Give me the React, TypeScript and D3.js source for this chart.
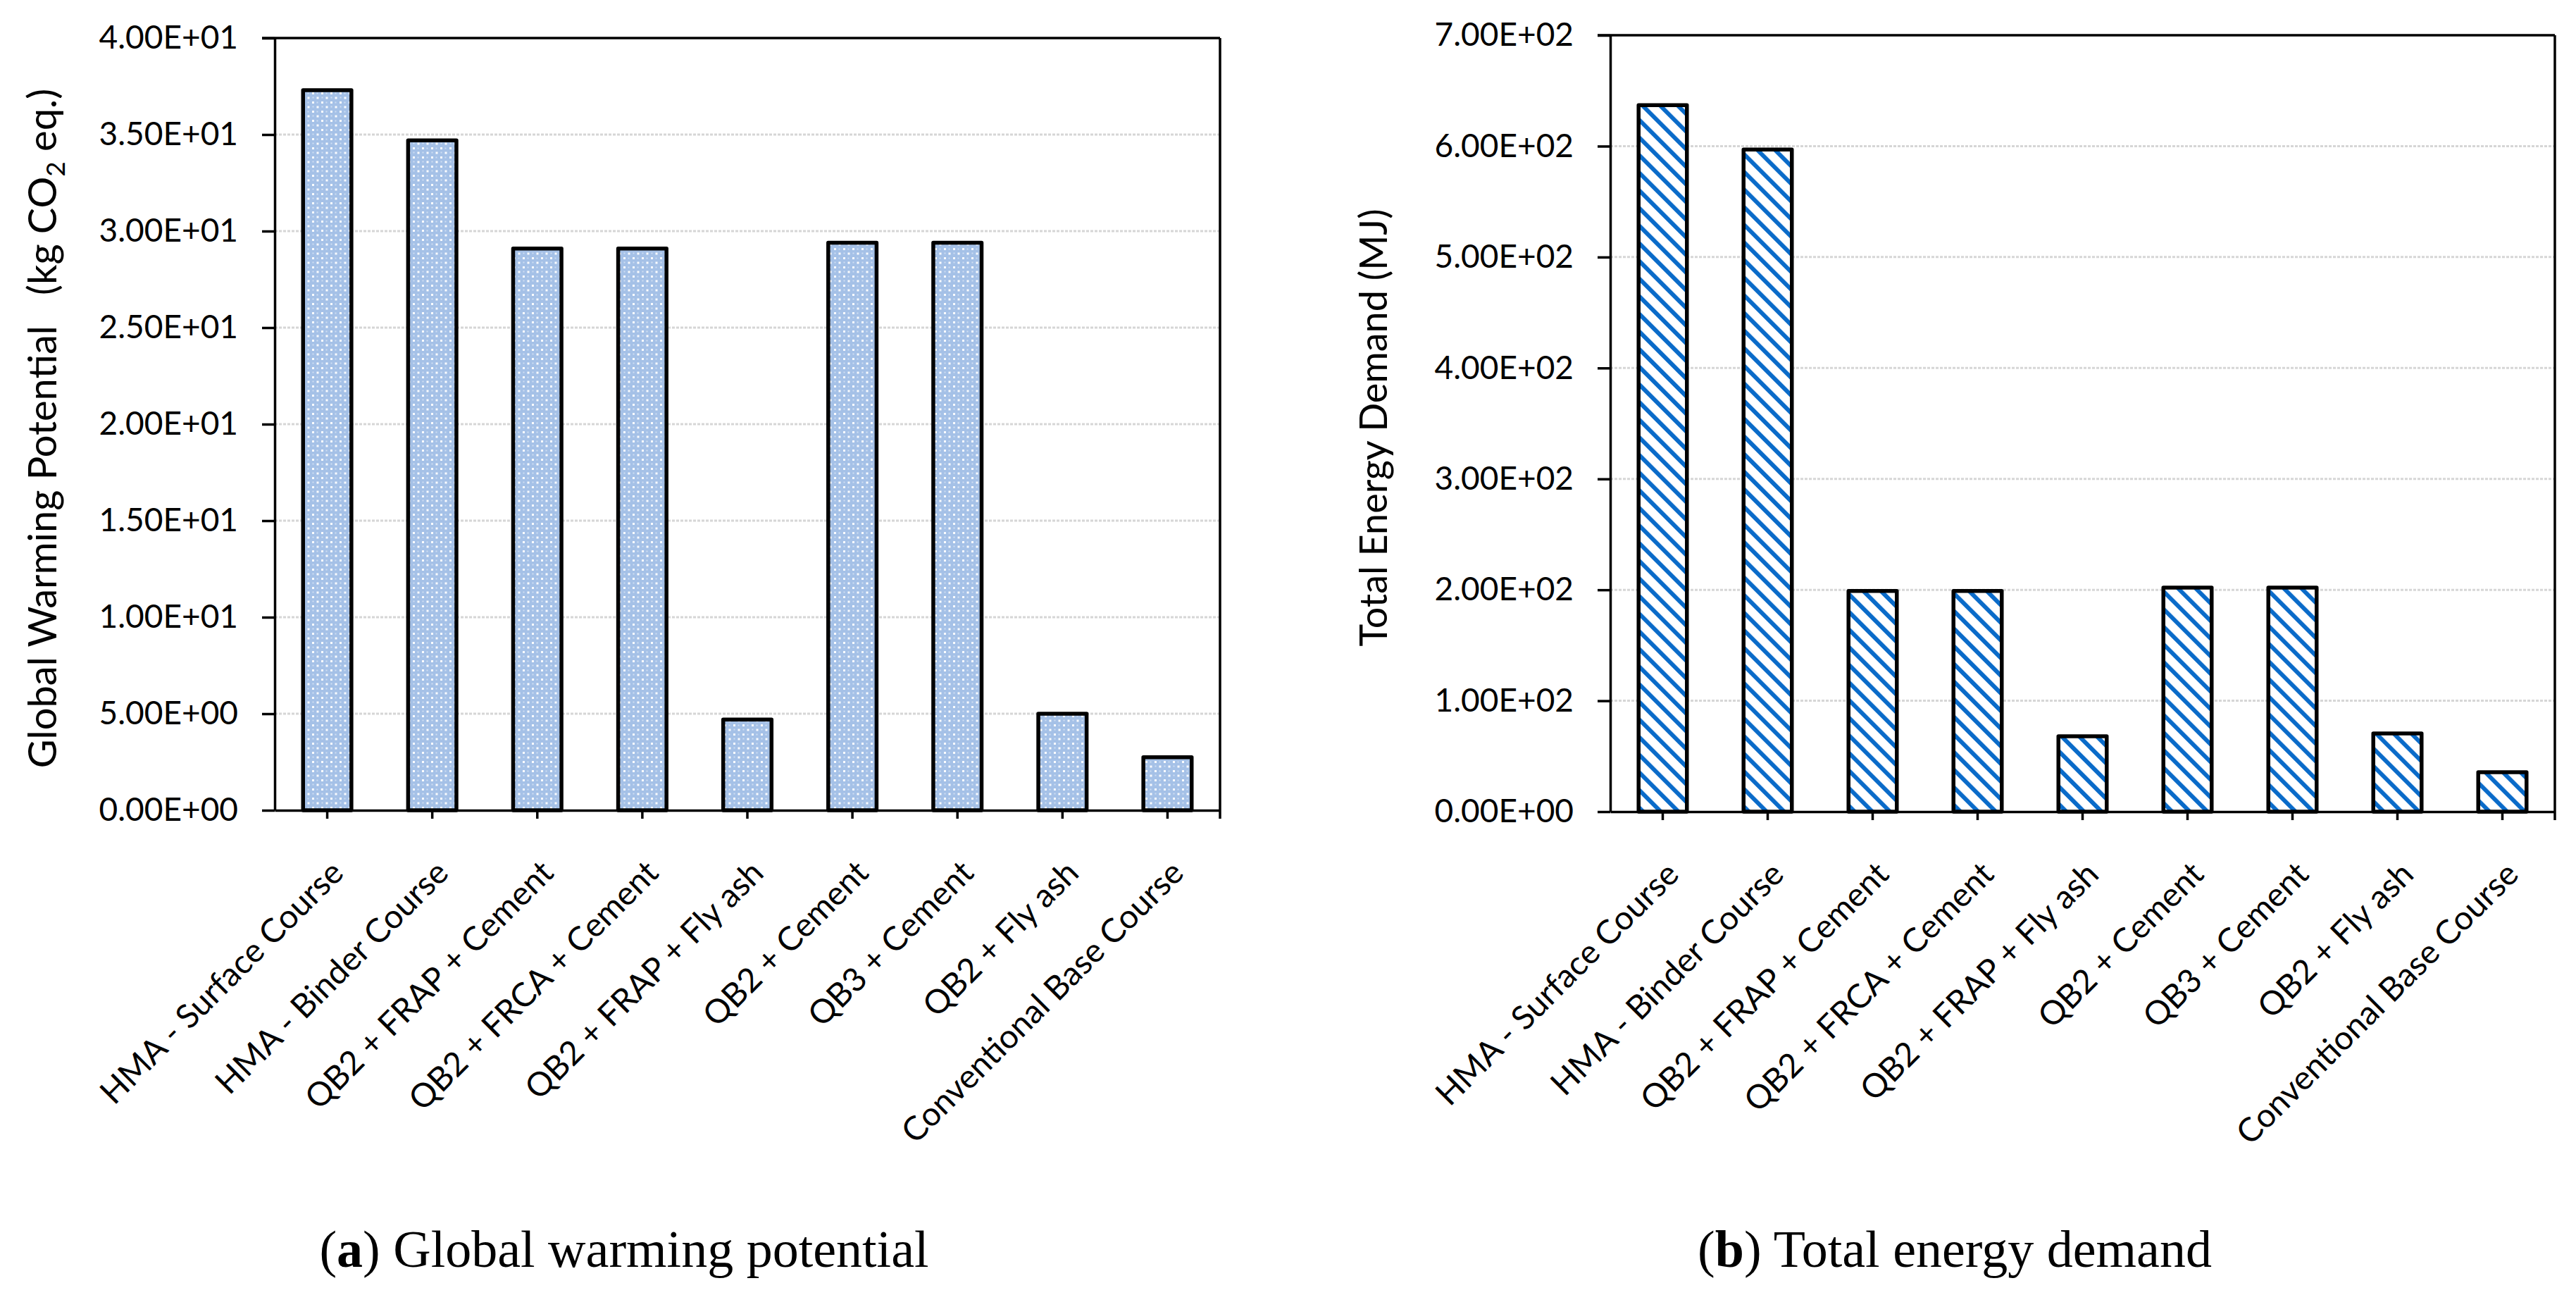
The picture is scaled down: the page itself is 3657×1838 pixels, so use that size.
import * as d3 from 'd3';
import React, { useEffect, useRef } from 'react';

// categories shared by both panels
const categories = [
  'HMA - Surface Course',
  'HMA - Binder Course',
  'QB2 + FRAP + Cement',
  'QB2 + FRCA + Cement',
  'QB2 + FRAP + Fly ash',
  'QB2 + Cement',
  'QB3 + Cement',
  'QB2 + Fly ash',
  'Conventional Base Course',
];

// (a) global warming potential, kg CO2 eq.
const gwpValues = [37.3, 34.7, 29.1, 29.1, 4.7, 29.4, 29.4, 5.0, 2.75];
const gwpTicks = [0, 5, 10, 15, 20, 25, 30, 35, 40];

// (b) total energy demand, MJ
const tedValues = [637, 597, 199, 199, 68, 202, 202, 70.5, 35.5];
const tedTicks = [0, 100, 200, 300, 400, 500, 600, 700];

const W = 3657;
const H = 1838;
const FONT = 'Lato, "Open Sans", sans-serif';

const fmtSci = (v: number) => {
  const [m, e] = v.toExponential(2).split('e');
  const sign = e[0] === '-' ? '-' : '+';
  const digits = e.replace(/[+-]/, '').padStart(2, '0');
  return `${m}E${sign}${digits}`;
};

export default function App() {
  const ref = useRef<SVGSVGElement>(null);

  useEffect(() => {
    drawChart();
  }, []);

  function drawPanel(
    svg: any,
    opts: {
      values: number[];
      ticks: number[];
      x0: number;
      x1: number;
      y0: number;
      y1: number;
      fill: string;
      titleX: number;
      titleSize: number;
      title: (t: any) => void;
    },
  ) {
    const { values, ticks, x0, x1, y0, y1 } = opts;
    const g = svg.append('g');

    const xScale = d3
      .scaleBand()
      .domain(categories)
      .range([x0, x1])
      .paddingInner(0.54)
      .paddingOuter(0.27);

    const yScale = d3
      .scaleLinear()
      .domain([0, ticks[ticks.length - 1]])
      .range([y1, y0]);

    // gridlines
    g.selectAll('.grid')
      .data(ticks.slice(1, -1))
      .enter()
      .append('line')
      .attr('x1', x0)
      .attr('x2', x1)
      .attr('y1', (d: number) => yScale(d))
      .attr('y2', (d: number) => yScale(d))
      .attr('stroke', '#d6d6d6')
      .attr('stroke-width', 3)
      .attr('stroke-dasharray', '4 2');

    // bars
    g.selectAll('.bar')
      .data(values)
      .enter()
      .append('rect')
      .attr('x', (_d: number, i: number) => xScale(categories[i]))
      .attr('y', (d: number) => yScale(d))
      .attr('width', xScale.bandwidth())
      .attr('height', (d: number) => y1 - yScale(d))
      .attr('fill', opts.fill)
      .attr('stroke', '#000')
      .attr('stroke-width', 5.5)
      .attr('stroke-linejoin', 'round');

    // y axis
    const yAxis = g
      .append('g')
      .attr('transform', `translate(${x0},0)`)
      .call(
        d3
          .axisLeft(yScale)
          .tickValues(ticks)
          .tickSize(18)
          .tickSizeOuter(0)
          .tickPadding(34)
          .tickFormat((d: any) => fmtSci(+d)),
      );
    yAxis.select('.domain').attr('stroke-width', 3.5);
    yAxis.selectAll('.tick line').attr('stroke-width', 3.5);
    yAxis
      .selectAll('text')
      .attr('font-family', FONT)
      .attr('font-size', 46)
      .attr('fill', '#000');

    // x axis
    const xAxis = g
      .append('g')
      .attr('transform', `translate(0,${y1})`)
      .call(d3.axisBottom(xScale).tickSize(12).tickSizeOuter(0));
    xAxis.select('.domain').attr('stroke-width', 3.5);
    xAxis.selectAll('.tick line').attr('stroke-width', 3.5);
    xAxis
      .selectAll('text')
      .attr('font-family', FONT)
      .attr('font-size', 47)
      .attr('fill', '#000')
      .attr('text-anchor', 'end')
      .attr('x', 0)
      .attr('y', 0)
      .attr('dy', '0.35em')
      .attr('transform', 'translate(14,80) rotate(-45)');

    // plot border: top and right
    g.append('line')
      .attr('x1', x0 - 18)
      .attr('x2', x1)
      .attr('y1', y0)
      .attr('y2', y0)
      .attr('stroke', '#000')
      .attr('stroke-width', 3.5);
    g.append('line')
      .attr('x1', x1)
      .attr('x2', x1)
      .attr('y1', y0)
      .attr('y2', y1 + 12)
      .attr('stroke', '#000')
      .attr('stroke-width', 3.5);

    // y title
    const t = g
      .append('text')
      .attr('transform', `translate(${opts.titleX},${(y0 + y1) / 2 + 6}) rotate(-90)`)
      .attr('text-anchor', 'middle')
      .attr('dy', '0.35em')
      .attr('font-family', FONT)
      .attr('font-size', opts.titleSize)
      .attr('fill', '#000')
      .style('white-space', 'pre');
    opts.title(t);
  }

  function drawChart() {
    const svg = d3.select(ref.current);
    svg.selectAll('*').remove();

    const defs = svg.append('defs');

    const dots = defs
      .append('pattern')
      .attr('id', 'dots')
      .attr('patternUnits', 'userSpaceOnUse')
      .attr('width', 13)
      .attr('height', 13);
    dots.append('rect').attr('width', 13).attr('height', 13).attr('fill', '#a5c1e7');
    dots.append('rect').attr('x', 1).attr('y', 1).attr('width', 3).attr('height', 3).attr('fill', '#fff').attr('opacity', 0.95);
    dots.append('rect').attr('x', 7.5).attr('y', 7.5).attr('width', 3).attr('height', 3).attr('fill', '#fff').attr('opacity', 0.95);
    dots.append('rect').attr('x', 7.5).attr('y', 1.5).attr('width', 2).attr('height', 2).attr('fill', '#fff').attr('opacity', 0.45);
    dots.append('rect').attr('x', 1.5).attr('y', 7.5).attr('width', 2).attr('height', 2).attr('fill', '#fff').attr('opacity', 0.45);

    const stripes = defs
      .append('pattern')
      .attr('id', 'stripes')
      .attr('patternUnits', 'userSpaceOnUse')
      .attr('width', 17.7)
      .attr('height', 17.7)
      .attr('patternTransform', 'rotate(-45)');
    stripes.append('rect').attr('width', 17.7).attr('height', 17.7).attr('fill', '#fff');
    stripes.append('rect').attr('x', 0).attr('y', 0).attr('width', 6).attr('height', 17.7).attr('fill', '#0a6bc9');

    drawPanel(svg, {
      values: gwpValues,
      ticks: gwpTicks,
      x0: 390,
      x1: 1732,
      y0: 54,
      y1: 1150,
      fill: 'url(#dots)',
      titleX: 60,
      titleSize: 56,
      title: (t) => {
        t.append('tspan').text('Global Warming Potential   (kg CO');
        t.append('tspan').attr('font-size', 37).attr('dy', 12).text('2');
        t.append('tspan').attr('dy', -12).text(' eq.)');
      },
    });

    drawPanel(svg, {
      values: tedValues,
      ticks: tedTicks,
      x0: 2286,
      x1: 3627,
      y0: 50,
      y1: 1152,
      fill: 'url(#stripes)',
      titleX: 1950,
      titleSize: 54,
      title: (t) => {
        t.text('Total Energy Demand (MJ)');
      },
    });

    // captions
    const captions = [
      { x: 886, letter: 'a', label: 'Global warming potential' },
      { x: 2775, letter: 'b', label: 'Total energy demand' },
    ];
    captions.forEach((c) => {
      const t = svg
        .append('text')
        .attr('x', c.x)
        .attr('y', 1798)
        .attr('text-anchor', 'middle')
        .attr('font-family', '"Liberation Serif", "DejaVu Serif", serif')
        .attr('font-size', 74)
        .attr('fill', '#000')
        .style('white-space', 'pre');
      t.append('tspan').text('(');
      t.append('tspan').attr('font-weight', 'bold').text(c.letter);
      t.append('tspan').text(') ' + c.label);
    });
  }

  return (
    <svg
      ref={ref}
      width={W}
      height={H}
      style={{ position: 'absolute', left: 0, top: 0, background: '#fff' }}
    />
  );
}
